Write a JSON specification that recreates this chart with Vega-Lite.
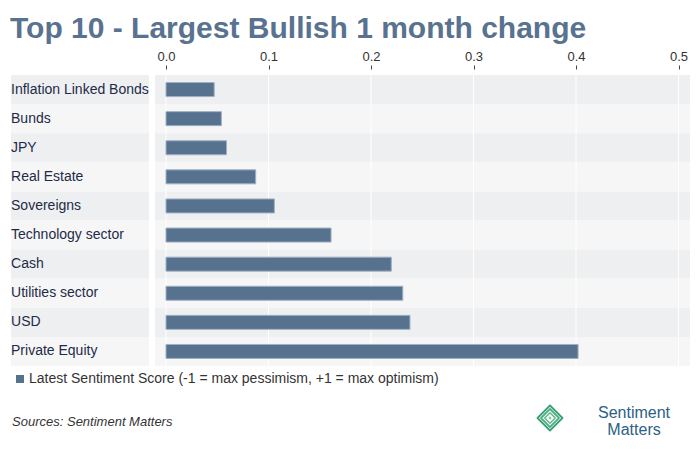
{
  "$schema": "https://vega.github.io/schema/vega-lite/v6.json",
  "width": 680,
  "height": 291,
  "autosize": {"type": "none"},
  "padding": {"left": 10, "top": 75, "right": 10, "bottom": 83},
  "background": "white",
  "config": {"view": {"stroke": null}, "font": "Liberation Sans"},
  "title": {
    "text": "Top 10 - Largest Bullish 1 month change",
    "anchor": "start",
    "frame": "group",
    "font": "Liberation Sans",
    "fontSize": 30,
    "fontWeight": "bold",
    "color": "#587290",
    "offset": 6
  },
  "datasets": {
    "scores": [
      {"asset": "Inflation Linked Bonds", "score": 0.047},
      {"asset": "Bunds", "score": 0.054},
      {"asset": "JPY", "score": 0.059},
      {"asset": "Real Estate", "score": 0.0875},
      {"asset": "Sovereigns", "score": 0.1057},
      {"asset": "Technology sector", "score": 0.161},
      {"asset": "Cash", "score": 0.2198},
      {"asset": "Utilities sector", "score": 0.231},
      {"asset": "USD", "score": 0.238},
      {"asset": "Private Equity", "score": 0.402}
    ],
    "grid": [{"v": 0}, {"v": 0.1}, {"v": 0.2}, {"v": 0.3}, {"v": 0.4}, {"v": 0.5}],
    "source": [{"label": "Sources: Sentiment Matters"}],
    "brand1": [{"label": "Sentiment"}],
    "brand2": [{"label": "Matters"}],
    "logo": [{"part": "mark"}]
  },
  "layer": [
    {
      "data": {"name": "scores"},
      "layer": [
        {
          "mark": {"type": "rect"},
          "encoding": {
            "y": {"field": "asset", "type": "nominal", "sort": null, "scale": {"paddingInner": 0, "paddingOuter": 0}, "axis": null},
            "x": {
              "datum": -0.1512,
              "type": "quantitative",
              "scale": {"domain": [-0.1522, 0.5112], "nice": false, "zero": false},
              "axis": {
                "orient": "top",
                "values": [0, 0.1, 0.2, 0.3, 0.4, 0.5],
                "format": ".1f",
                "offset": 6,
                "tickSize": 4,
                "tickColor": "#444444",
                "labelFontSize": 13,
                "labelColor": "#333333",
                "labelPadding": 2,
                "domain": false,
                "grid": false,
                "title": null
              }
            },
            "x2": {"datum": -0.0166},
            "fill": {"field": "asset", "type": "nominal", "sort": null, "scale": {"range": ["#eeeff1", "#f6f6f6"]}, "legend": null}
          }
        },
        {
          "mark": {"type": "rect"},
          "encoding": {
            "y": {"field": "asset", "type": "nominal", "sort": null},
            "x": {"datum": -0.0107, "type": "quantitative"},
            "x2": {"datum": 0.5112},
            "fill": {"field": "asset", "type": "nominal", "sort": null}
          }
        },
        {
          "data": {"name": "grid"},
          "mark": {"type": "rule", "color": "white", "strokeWidth": 1},
          "encoding": {"x": {"field": "v", "type": "quantitative"}}
        },
        {
          "mark": {"type": "bar", "size": 14, "stroke": "#9fb0c2", "strokeWidth": 1},
          "encoding": {
            "y": {"field": "asset", "type": "nominal", "sort": null},
            "x": {"field": "score", "type": "quantitative"},
            "color": {
              "datum": "Latest Sentiment Score (-1 = max pessimism, +1 = max optimism)",
              "scale": {"range": ["#57728f"]},
              "legend": {
                "orient": "none",
                "legendX": 3,
                "legendY": 297,
                "title": null,
                "symbolType": "square",
                "symbolSize": 64,
                "symbolStrokeWidth": 0,
                "labelFontSize": 14,
                "labelColor": "#333333",
                "labelLimit": 600,
                "labelOffset": 2,
                "padding": 0
              }
            }
          }
        },
        {
          "mark": {"type": "text", "align": "left", "baseline": "middle", "fontSize": 14, "color": "#1e2b48"},
          "encoding": {
            "y": {"field": "asset", "type": "nominal", "sort": null},
            "x": {"datum": -0.1512, "type": "quantitative"},
            "text": {"field": "asset"}
          }
        }
      ]
    },
    {
      "data": {"name": "source"},
      "mark": {"type": "text", "align": "left", "baseline": "middle", "fontSize": 13, "fontStyle": "italic", "color": "#333333"},
      "encoding": {
        "x": {"datum": -0.1502, "type": "quantitative"},
        "y": {"datum": -0.1924, "type": "quantitative", "scale": {"domain": [0, 1]}, "axis": null},
        "text": {"field": "label"}
      }
    },
    {
      "data": {"name": "brand1"},
      "mark": {"type": "text", "align": "center", "baseline": "alphabetic", "fontSize": 16, "color": "#2a6184"},
      "encoding": {
        "x": {"datum": 0.4566, "type": "quantitative"},
        "y": {"datum": -0.1787, "type": "quantitative", "scale": {"domain": [0, 1]}, "axis": null},
        "text": {"field": "label"}
      }
    },
    {
      "data": {"name": "brand2"},
      "mark": {"type": "text", "align": "center", "baseline": "alphabetic", "fontSize": 16, "color": "#2a6184"},
      "encoding": {
        "x": {"datum": 0.4566, "type": "quantitative"},
        "y": {"datum": -0.2371, "type": "quantitative", "scale": {"domain": [0, 1]}, "axis": null},
        "text": {"field": "label"}
      }
    },
    {
      "data": {"name": "logo"},
      "mark": {"type": "point", "shape": "diamond", "filled": false, "size": 625, "stroke": "#3a9f73", "strokeWidth": 1.8, "strokeJoin": "round", "opacity": 1},
      "encoding": {
        "x": {"datum": 0.3746, "type": "quantitative"},
        "y": {"datum": -0.1787, "type": "quantitative", "scale": {"domain": [0, 1]}, "axis": null}
      }
    },
    {
      "data": {"name": "logo"},
      "mark": {"type": "point", "shape": "diamond", "filled": false, "size": 324, "stroke": "#4fb083", "strokeWidth": 1.8, "strokeJoin": "round", "opacity": 1},
      "encoding": {
        "x": {"datum": 0.3746, "type": "quantitative"},
        "y": {"datum": -0.1787, "type": "quantitative", "scale": {"domain": [0, 1]}, "axis": null}
      }
    },
    {
      "data": {"name": "logo"},
      "mark": {"type": "point", "shape": "diamond", "filled": false, "size": 110, "stroke": "#62ba8e", "strokeWidth": 1.6, "strokeJoin": "round", "opacity": 1},
      "encoding": {
        "x": {"datum": 0.3746, "type": "quantitative"},
        "y": {"datum": -0.1787, "type": "quantitative", "scale": {"domain": [0, 1]}, "axis": null}
      }
    },
    {
      "data": {"name": "logo"},
      "mark": {"type": "point", "shape": "diamond", "filled": true, "size": 12, "color": "#7ccaa2", "opacity": 1},
      "encoding": {
        "x": {"datum": 0.3746, "type": "quantitative"},
        "y": {"datum": -0.1787, "type": "quantitative", "scale": {"domain": [0, 1]}, "axis": null}
      }
    }
  ],
  "resolve": {"scale": {"y": "independent"}}
}
